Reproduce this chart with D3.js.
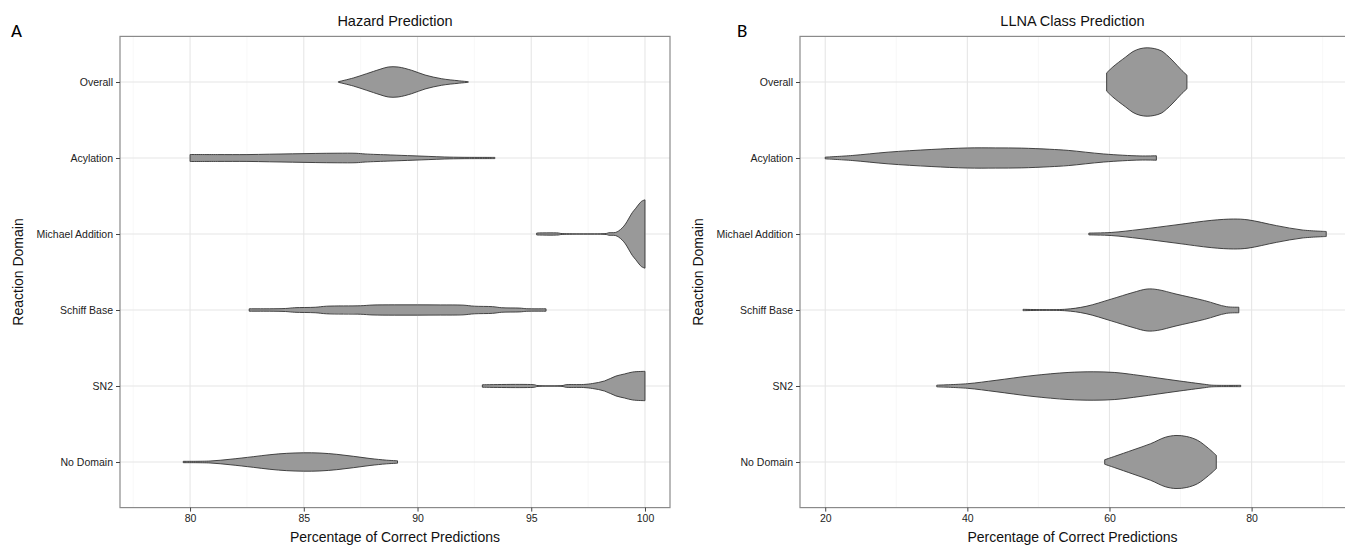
<!DOCTYPE html>
<html>
<head>
<meta charset="utf-8">
<script src="https://cdn.jsdelivr.net/npm/d3@7"></script>
<style>
  body { margin: 0; background: #fff; }
  text { font-family: "Liberation Sans", Arial, sans-serif; }
</style>
</head>
<body>
<div class="viz"></div>
<script>
// categories, top to bottom
const domains = ["Overall", "Acylation", "Michael Addition", "Schiff Base", "SN2", "No Domain"];

const hazardTicks = [80, 85, 90, 95, 100];
const llnaTicks = [20, 40, 60, 80];

// violin outlines: [value, half width as share of category step]
const hazOverall = [[86.52,0.004],[87.18,0.053],[87.76,0.109],[88.35,0.167],[88.71,0.197],[89.15,0.197],[89.74,0.154],[90.33,0.092],[91.06,0.043],[91.79,0.017],[92.23,0.004]];
const hazAcylation = [[80,0.046],[81.2,0.045],[82.5,0.045],[83.5,0.05],[84.5,0.055],[85.5,0.06],[86.5,0.063],[87.3,0.062],[87.7,0.053],[88.8,0.04],[89.8,0.029],[90.5,0.021],[91.2,0.013],[92,0.009],[93.4,0.008]];
const hazMichael = [[95.24,0.013],[96.2,0.013],[96.3,0.007],[98.3,0.007],[98.4,0.016],[98.7,0.02],[98.84,0.04],[99.0,0.08],[99.14,0.13],[99.3,0.21],[99.45,0.285],[99.6,0.34],[99.74,0.395],[99.85,0.43],[100,0.45]];
const hazSchiff = [[82.6,0.016],[83.5,0.016],[84.2,0.02],[84.6,0.03],[85.5,0.036],[86,0.05],[87.5,0.056],[88,0.065],[89,0.068],[90,0.068],[91,0.067],[92,0.064],[92.5,0.05],[93.3,0.044],[93.7,0.03],[94.5,0.025],[94.8,0.017],[95.65,0.016]];
const hazSN2 = [[92.85,0.016],[95.15,0.016],[95.25,0.007],[96.4,0.007],[96.5,0.016],[97.3,0.02],[97.7,0.033],[98.22,0.066],[98.72,0.13],[99.1,0.158],[99.46,0.184],[100,0.193]];
const hazNoDomain = [[79.7,0.009],[80.88,0.013],[81.76,0.036],[82.78,0.07],[83.51,0.096],[84.25,0.114],[84.98,0.121],[85.71,0.118],[86.45,0.101],[87.18,0.075],[87.91,0.046],[88.64,0.024],[89.12,0.016]];

const llnaOverall = [[59.6,0.12],[60.5,0.2],[61.3,0.26],[62.3,0.33],[63.3,0.4],[64.3,0.438],[65.3,0.45],[66.3,0.44],[67.3,0.41],[68.0,0.36],[68.8,0.29],[69.5,0.22],[70.2,0.15],[70.9,0.09]];
const llnaAcylation = [[20,0.011],[23.8,0.033],[28.85,0.077],[34.9,0.112],[40,0.132],[44,0.133],[47.6,0.13],[51.6,0.115],[54.2,0.1],[59.2,0.053],[64.3,0.027],[66.6,0.029]];
const llnaMichael = [[57.1,0.012],[60.24,0.02],[64.3,0.06],[69.36,0.12],[74.4,0.18],[77.46,0.197],[79.5,0.186],[83.5,0.11],[87.1,0.053],[90.5,0.033]];
const llnaSchiff = [[47.84,0.009],[53.67,0.009],[56.7,0.048],[60.24,0.143],[63.3,0.23],[65.3,0.276],[66.8,0.268],[69.36,0.21],[73.4,0.123],[76.45,0.044],[78.2,0.037]];
const llnaSN2 = [[35.7,0.011],[40,0.03],[44.04,0.075],[49.1,0.136],[54.17,0.178],[57.7,0.187],[60.75,0.178],[64.3,0.138],[69.36,0.072],[73.4,0.022],[74.4,0.011],[78.47,0.009]];
const llnaNoDomain = [[59.33,0.03],[60.75,0.075],[63.3,0.158],[65.8,0.241],[67.84,0.325],[69.36,0.349],[70.88,0.335],[72.4,0.285],[73.92,0.18],[75.03,0.088]];

const hazardViolins = [hazOverall, hazAcylation, hazMichael, hazSchiff, hazSN2, hazNoDomain];
const llnaViolins = [llnaOverall, llnaAcylation, llnaMichael, llnaSchiff, llnaSN2, llnaNoDomain];

const W = 1345, H = 546;
const svg = d3.select(".viz").append("svg")
    .attr("width", W)
    .attr("height", H);

function drawPanel(cfg) {
  const top = 36.4, height = 471.2;
  const g = svg.append("g").attr("transform", `translate(${cfg.left},${top})`);

  const x = d3.scaleLinear().domain(cfg.xDomain).range([0, cfg.width]);
  const y = d3.scalePoint().domain(domains).range([0, height]).padding(0.6);
  const step = y.step();

  // minor grid
  const minor = d3.range(cfg.minorStart, cfg.xDomain[1], cfg.minorStep)
      .filter(v => v > cfg.xDomain[0] && !cfg.ticks.includes(v));
  g.append("g").selectAll("line").data(minor).join("line")
      .attr("x1", d => x(d)).attr("x2", d => x(d))
      .attr("y1", 0).attr("y2", height)
      .attr("stroke", "#f3f3f3").attr("stroke-width", 0.6);

  // major grid
  g.append("g").selectAll("line").data(cfg.ticks).join("line")
      .attr("x1", d => x(d)).attr("x2", d => x(d))
      .attr("y1", 0).attr("y2", height)
      .attr("stroke", "#e6e6e6").attr("stroke-width", 1.1);
  g.append("g").selectAll("line").data(domains).join("line")
      .attr("x1", 0).attr("x2", cfg.width)
      .attr("y1", d => y(d)).attr("y2", d => y(d))
      .attr("stroke", "#e6e6e6").attr("stroke-width", 1.1);

  // violins
  const area = d3.area()
      .x(d => x(d[0]))
      .curve(d3.curveCatmullRom.alpha(0.5));
  g.append("g").selectAll("path").data(cfg.violins).join("path")
      .attr("d", (d, i) => {
        const yc = y(domains[i]);
        return area.y0(p => yc + p[1] * step).y1(p => yc - p[1] * step)(d);
      })
      .attr("fill", "#999999")
      .attr("stroke", "#333333")
      .attr("stroke-width", 0.9)
      .attr("stroke-linejoin", "round");

  // border
  g.append("rect")
      .attr("width", cfg.width).attr("height", height)
      .attr("fill", "none").attr("stroke", "#8a8a8a").attr("stroke-width", 1.2);

  // axes
  const xAxis = g.append("g")
      .attr("transform", `translate(0,${height})`)
      .call(d3.axisBottom(x).tickValues(cfg.ticks).tickSize(4).tickPadding(3));
  const yAxis = g.append("g")
      .call(d3.axisLeft(y).tickSize(4).tickPadding(3));
  [xAxis, yAxis].forEach(a => {
    a.select(".domain").remove();
    a.selectAll(".tick line").attr("stroke", "#444");
    a.selectAll(".tick text")
        .attr("fill", "#222")
        .style("font-family", '"Liberation Sans", Arial, sans-serif')
        .style("font-size", "10.5px");
  });

  // titles
  g.append("text")
      .attr("x", cfg.width / 2 - cfg.titleShift)
      .attr("y", -10)
      .attr("text-anchor", "middle")
      .style("font-size", "14.5px")
      .attr("fill", "#111")
      .text(cfg.title);

  g.append("text")
      .attr("x", cfg.width / 2 - cfg.titleShift)
      .attr("y", height + 34)
      .attr("text-anchor", "middle")
      .style("font-size", "14px")
      .attr("fill", "#111")
      .text("Percentage of Correct Predictions");

  g.append("text")
      .attr("transform", `translate(${cfg.yTitleX - cfg.left},${height / 2}) rotate(-90)`)
      .attr("text-anchor", "middle")
      .style("font-size", "14px")
      .attr("fill", "#111")
      .text("Reaction Domain");

  svg.append("text")
      .attr("x", cfg.letterX)
      .attr("y", 37)
      .style("font-family", "Carlito, 'Liberation Sans', Arial, sans-serif")
      .style("font-size", "19px")
      .attr("fill", "#000")
      .text(cfg.letter);
}

drawPanel({
  left: 120, width: 550, xDomain: [76.92, 101.1],
  ticks: hazardTicks, minorStart: 77.5, minorStep: 2.5,
  violins: hazardViolins, title: "Hazard Prediction",
  titleShift: 0, yTitleX: 23, letter: "A", letterX: 11
});

drawPanel({
  left: 800, width: 555, xDomain: [16.45, 94.55],
  ticks: llnaTicks, minorStart: 30, minorStep: 20,
  violins: llnaViolins, title: "LLNA Class Prediction",
  titleShift: 5, yTitleX: 703, letter: "B", letterX: 737
});
</script>
</body>
</html>
